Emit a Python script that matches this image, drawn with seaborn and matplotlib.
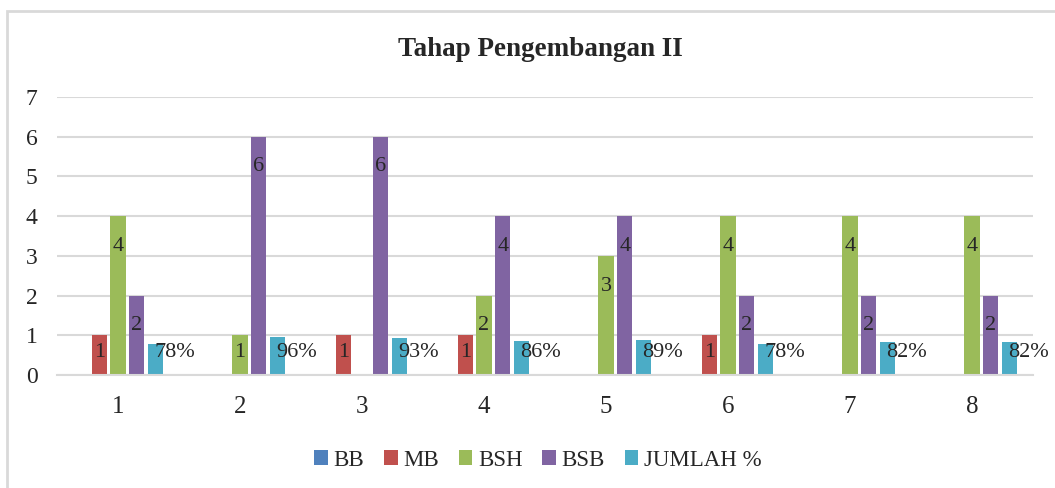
import pandas as pd
import matplotlib.pyplot as plt
import matplotlib.patches as mpatches
import seaborn as sns

# ------------------------------------------------------------------------------
# data
# ------------------------------------------------------------------------------

groups = ['1', '2', '3', '4', '5', '6', '7', '8']
series = ['BB', 'MB', 'BSH', 'BSB', 'JUMLAH %']
bb = [0, 0, 0, 0, 0, 0, 0, 0]
mb = [1, 0, 1, 1, 0, 1, 0, 0]
bsh = [4, 1, 0, 2, 3, 4, 4, 4]
bsb = [2, 6, 6, 4, 4, 2, 2, 2]
jumlah = [0.78, 0.96, 0.93, 0.86, 0.89, 0.78, 0.82, 0.82]
colors = ['#4F81BD', '#C0504D', '#9BBB59', '#8064A2', '#4BACC6']

rows = []
for name, vals in zip(series, [bb, mb, bsh, bsb, jumlah]):
    for g, v in zip(groups, vals):
        rows.append({'group': g, 'series': name, 'value': v})
df = pd.DataFrame(rows)

# ------------------------------------------------------------------------------
# plot
# ------------------------------------------------------------------------------

sns.set_style('white')
plt.rcParams['font.family'] = ['Liberation Serif', 'DejaVu Serif']

fig = plt.figure(figsize=(10.55, 4.88), dpi=100)
ax = fig.add_axes([57 / 1055, 1 - 375 / 488, 976 / 1055, 278 / 488])

sns.barplot(data=df, x='group', y='value', hue='series', hue_order=series,
            palette=colors, width=0.77, gap=0.2, saturation=1, ax=ax,
            linewidth=0)

# data labels (Excel style "inside end", clamped for short bars)
for name, cont in zip(series, ax.containers):
    for bar in cont:
        v = bar.get_height()
        if v <= 0:
            continue
        xc = bar.get_x() + bar.get_width() / 2
        ypos = max(v - 0.875, 0.45)
        if name == 'JUMLAH %':
            ax.text(xc - 0.01, ypos, f'{round(v * 100):d}%', ha='left',
                    va='baseline', fontsize=16, clip_on=False)
        else:
            ax.text(xc, ypos, f'{int(v)}', ha='center', va='baseline',
                    fontsize=16)

# axes params
ax.set_ylim(0, 7)
ax.set_yticks(range(0, 8))
ax.set_xlabel(None)
ax.set_ylabel(None)
ax.grid(axis='y', color='#d9d9d9', linewidth=1.5)
ax.set_axisbelow(True)
for s in ['top', 'right', 'left']:
    ax.spines[s].set_visible(False)
ax.spines['bottom'].set_color('#d9d9d9')
ax.spines['bottom'].set_linewidth(1.5)
ax.tick_params(axis='y', length=0, pad=14, labelsize=17)
ax.tick_params(axis='x', length=0, pad=15, labelsize=18)

# legend below the plot
handles, labels = ax.get_legend_handles_labels()
ax.get_legend().remove()
fig.legend(handles, labels, loc='center', bbox_to_anchor=(538 / 1055, 1 - 460 / 488),
           ncol=5, frameon=False, fontsize=16.5, handlelength=0.6, handleheight=0.6,
           handletextpad=0.25, columnspacing=0.85)

fig.suptitle('Tahap Pengembangan II', fontweight='bold', fontsize=19.5,
             x=540 / 1055, y=1 - 50 / 488, va='center')

# chart border
fig.patches.append(mpatches.Rectangle((7 / 1055, -0.1), 1.2, 1.1 - 11 / 488,
                                      transform=fig.transFigure, fill=False,
                                      edgecolor='#d9d9d9', linewidth=2))

plt.savefig('out.png', dpi=100)
plt.close()
